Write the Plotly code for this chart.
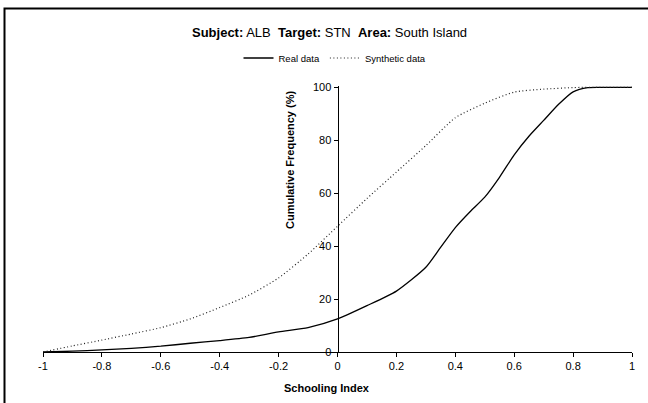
import plotly.graph_objects as go

# Schooling index grid and cumulative frequencies (%)
real_x = [-1.0, -0.9, -0.8, -0.7, -0.6, -0.5, -0.4, -0.3, -0.2, -0.1, 0.0,
          0.1, 0.2, 0.3, 0.35, 0.4, 0.45, 0.5, 0.55, 0.6, 0.65, 0.7, 0.75,
          0.8, 0.85, 0.9, 1.0]
real_y = [0.0, 0.3, 0.8, 1.4, 2.2, 3.3, 4.3, 5.5, 7.6, 9.2, 12.5,
          17.5, 23.0, 32.0, 39.5, 47.0, 53.0, 58.5, 66.0, 74.5, 81.5, 87.5, 93.5,
          98.3, 99.9, 100.0, 100.0]

synth_x = [-1.0, -0.9, -0.8, -0.7, -0.6, -0.5, -0.4, -0.3, -0.2, -0.1, 0.0,
           0.1, 0.2, 0.3, 0.4, 0.5, 0.6, 0.7, 0.8, 0.9, 1.0]
synth_y = [0.0, 2.3, 4.5, 6.8, 9.2, 12.5, 16.8, 21.5, 28.0, 37.0, 47.5,
           58.0, 68.0, 78.0, 88.5, 94.0, 98.2, 99.3, 99.9, 100.0, 100.0]

x_ticks = [-1.0, -0.8, -0.6, -0.4, -0.2, 0.0, 0.2, 0.4, 0.6, 0.8, 1.0]
x_tick_labels = ["-1", "-0.8", "-0.6", "-0.4", "-0.2", "0", "0.2", "0.4", "0.6", "0.8", "1"]
y_ticks = [0, 20, 40, 60, 80, 100]

FONT = "Liberation Sans, Arial, sans-serif"
W, H = 648, 403
ML, MR, MT, MB = 43, 16, 86, 51
PW, PH = W - ML - MR, H - MT - MB


def px_x(p):
    return (p - ML) / PW


def px_y(p):
    return (H - MB - p) / PH


fig = go.Figure()
fig.add_trace(go.Scatter(
    x=real_x, y=real_y, name="Real data", mode="lines",
    line=dict(color="black", width=1.3, shape="spline", smoothing=0.6),
))
fig.add_trace(go.Scatter(
    x=synth_x, y=synth_y, name="Synthetic data", mode="lines",
    line=dict(color="#222222", width=1.2, dash="1px,2.5px", shape="spline", smoothing=0.6),
))

fig.update_layout(
    width=W, height=H,
    margin=dict(l=ML, r=MR, t=MT, b=MB),
    paper_bgcolor="white", plot_bgcolor="white",
    font=dict(family=FONT, color="black", size=11),
    showlegend=True,
    legend=dict(
        orientation="h", x=px_x(335), xanchor="center",
        y=px_y(58), yanchor="middle",
        font=dict(size=9.5, family=FONT), itemwidth=30,
        bgcolor="rgba(0,0,0,0)", tracegroupgap=0,
    ),
    xaxis=dict(
        range=[-1, 1], domain=[0, 1], anchor="y",
        tickvals=x_ticks, ticktext=x_tick_labels,
        showgrid=False, zeroline=False, showline=True,
        linecolor="black", linewidth=1,
        ticks="outside", ticklen=4, tickcolor="black",
        tickfont=dict(size=11, family=FONT),
    ),
    yaxis=dict(
        range=[0, 100.5], domain=[0, 1], anchor="free", position=0.5,
        tickvals=y_ticks,
        showgrid=False, zeroline=False, showline=True,
        linecolor="black", linewidth=1,
        ticks="outside", ticklen=4, tickcolor="black",
        tickfont=dict(size=11, family=FONT),
    ),
    shapes=[
        dict(type="rect", xref="paper", yref="paper",
             x0=px_x(4.5), x1=px_x(700), y0=px_y(450), y1=px_y(8.5),
             line=dict(color="black", width=2), fillcolor="rgba(0,0,0,0)",
             layer="below"),
    ],
    annotations=[
        dict(text="<b>Subject:</b> ALB  <b>Target:</b> STN  <b>Area:</b> South Island",
             xref="paper", yref="paper", x=px_x(329), y=px_y(32),
             xanchor="center", yanchor="middle", showarrow=False,
             font=dict(size=13, family=FONT)),
        dict(text="<b>Schooling Index</b>",
             xref="paper", yref="paper", x=px_x(327), y=px_y(388),
             xanchor="center", yanchor="middle", showarrow=False,
             font=dict(size=11, family=FONT)),
        dict(text="<b>Cumulative Frequency (%)</b>",
             xref="paper", yref="paper", x=px_x(290), y=px_y(160),
             xanchor="center", yanchor="middle", showarrow=False, textangle=-90,
             font=dict(size=11, family=FONT)),
    ],
)

fig.write_html("out.html")
